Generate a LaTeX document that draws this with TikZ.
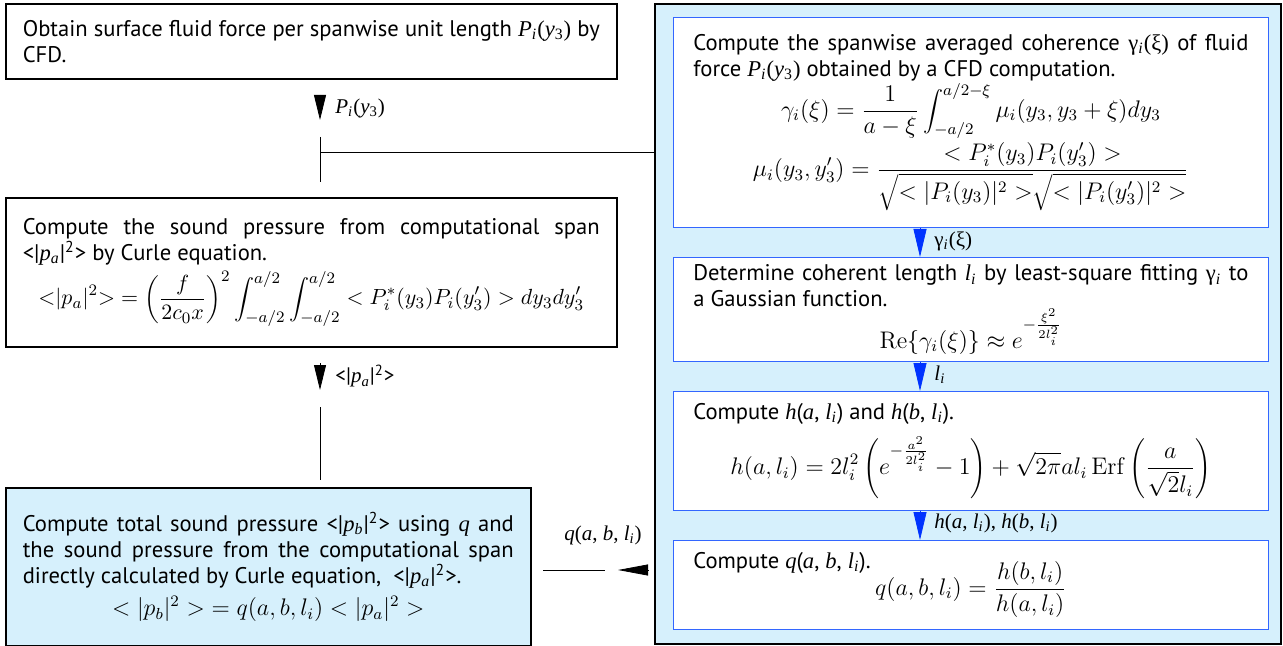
\documentclass[tikz,border=0pt]{standalone}
\usepackage[no-math]{fontspec}
\setmainfont{PT Sans}
\newfontfamily\tms{Liberation Serif}
\usetikzlibrary{arrows.meta}

\definecolor{panelblue}{HTML}{D6F0FC}
\definecolor{stepblue}{HTML}{3366FF}
\definecolor{tipblue}{HTML}{0033FF}

\hyphenpenalty=10000
\exhyphenpenalty=10000

\newcommand\tv[1]{{\tms\itshape #1}}
\newcommand\ts[1]{\textsubscript{#1}}
\newcommand\Piy{\tv{P}\ts{\tv{i}}{\tms(}\tv{y}\ts{\tms 3}{\tms)}}
\newcommand\pa{<|\tv{p}\ts{\tv{a}}|\textsuperscript{2}>}
\newcommand\pb{<|\tv{p}\ts{\tv{b}}|\textsuperscript{2}>}
\newcommand\gx{{\tms γ}\ts{\tv{i}}{\tms(ξ)}}
\newcommand\li{\tv{l}\ts{\tv{i}}}
\newcommand\mathsz[1]{\fontsize{#1}{14}\selectfont}

\begin{document}
\begin{tikzpicture}[x=0.5pt,y=-0.5pt,
  every node/.style={font=\fontsize{11.3}{13}\selectfont},
  leftbox/.style={draw,thick,anchor=north west,inner xsep=8.5pt,inner ysep=3pt,align=justify},
  stepbox/.style={draw=stepblue,fill=white,anchor=north west,inner xsep=10pt,inner ysep=3pt,
    text width=277.5pt,minimum width=297.5pt,align=justify},
  flowlabel/.style={anchor=west,inner sep=1pt,font=\tms\fontsize{10.5}{12}\selectfont},
  blacktip/.style={-{Triangle[length=12.5pt,width=6pt]}},
  bluetip/.style={draw=tipblue,-{Triangle[length=14pt,width=6.5pt]},tipblue},
  lefttip/.style={-{Triangle[length=15pt,width=5.5pt]}}]
\useasboundingbox (0,0) rectangle (1283,646);

% right hand panel
\node[draw,very thick,fill=panelblue,anchor=north west,minimum width=313pt,minimum height=320pt,inner sep=0pt] (panel) at (654,3) {};

\node[stepbox,minimum height=105pt] (coher) at (673,17) {Compute the spanwise averaged coherence \gx{} of fluid force \Piy{} obtained by a CFD computation.\par
\centerline{\mathsz{11.7}$\displaystyle\gamma_i(\xi)=\frac{1}{a-\xi}\int_{-a/2}^{a/2-\xi}\mu_i(y_3,y_3+\xi)dy_3$}\par\vspace{1pt}
\centerline{\mathsz{11.7}$\displaystyle\mu_i(y_3,y'_3)=\frac{<P_i^*(y_3)P_i(y'_3)>}{\sqrt{<|P_i(y_3)|^2>}\sqrt{<|P_i(y'_3)|^2>}}$}};
\node[stepbox,minimum height=52pt] (fitlen) at (673,257) {Determine coherent length \li{} by least-square fitting {\tms γ}\ts{\tv{i}} to\linebreak a Gaussian function.\par
\centerline{\mathsz{11.7}$\mathrm{Re}\{\gamma_i(\xi)\}\approx e^{-\frac{\xi^2}{2l_i^2}}$}};
\node[stepbox,minimum height=59.5pt] (hfun) at (673,391) {Compute \tv{h}(\tv{a}, \li) and \tv{h}(\tv{b}, \li).\par\vspace{5pt}
\centerline{\mathsz{11.7}$\displaystyle h(a,l_i)=2l_i^2\left(e^{-\frac{a^2}{2l_i^2}}-1\right)+\sqrt{2\pi}al_i\,\mathrm{Erf}\left(\frac{a}{\sqrt{2}l_i}\right)$}};
\node[stepbox,minimum height=44.5pt] (qfun) at (673,540) {Compute \tv{q}(\tv{a}, \tv{b}, \li).\par\vspace{-7pt}
\centerline{\mathsz{11.7}$\displaystyle q(a,b,l_i)=\frac{h(b,l_i)}{h(a,l_i)}$}};

% left hand column
\node[leftbox,text width=288.5pt,minimum height=37.5pt] (obtain) at (5,3) {Obtain surface fluid force per spanwise unit length \Piy{} by CFD.};
\node[leftbox,text width=288.5pt,minimum height=74.5pt] (curle) at (5,197) {Compute the sound pressure from computational span \pa{} by Curle equation.\par\vspace{2pt}
\centerline{\mathsz{10.8}$\displaystyle{<}|p_a|^2{>}=\left(\frac{f}{2c_0x}\right)^2\int_{-a/2}^{a/2}\int_{-a/2}^{a/2}<P_i^*(y_3)P_i(y'_3)>dy_3dy'_3$}};
\node[leftbox,fill=panelblue,text width=245.5pt,minimum height=79pt] (total) at (5,487) {Compute total sound pressure \pb{} using \tv{q} and the sound pressure from the computational span directly calculated by Curle equation,~ \pa.\par\vspace{3pt}
\centerline{\mathsz{11.5}$<|p_b|^2>\;=q(a,b,l_i)<|p_a|^2>$}};

% connectors, left column
\coordinate (t1) at (320,95);
\coordinate (t2) at (320,120);
\coordinate (j0) at (320,137);
\coordinate (j1) at (320,152);
\coordinate (j2) at (320,182);
\draw[blacktip] (t1)--(t2);
\node[flowlabel] (lbpi) at (333,108) {\Piy};
\draw (j0)--(j2);
\draw (j1)--(j1 -| panel.west);

\coordinate (t3) at (320,363);
\coordinate (t4) at (320,390);
\coordinate (j3) at (320,407);
\coordinate (j4) at (320,480);
\draw[blacktip] (t3)--(t4);
\node[flowlabel,font=\fontsize{10.5}{12}\selectfont] (lbpa) at (333,376) {\pa};
\draw (j3)--(j4);

\coordinate (q0) at (543,570);
\coordinate (q1) at (605,570);
\coordinate (q2) at (648,570);
\coordinate (q3) at (618,570);
\draw (q0)--(q1);
\draw[lefttip] (q2)--(q3);
\node[flowlabel,anchor=center] (lbq) at (603,535) {\tv{q}(\tv{a}, \tv{b}, \li)};

% connectors, right panel
\coordinate (bx) at (920,0);
\draw[bluetip] (coher.south -| bx)--(fitlen.north -| bx);
\node[flowlabel] (lbg) at (932,241) {\gx};
\draw[bluetip] (fitlen.south -| bx)--(hfun.north -| bx);
\node[flowlabel] (lbl) at (932,375) {\li};
\draw[bluetip] (hfun.south -| bx)--(qfun.north -| bx);
\node[flowlabel] (lbh) at (932,523) {\tv{h}(\tv{a}, \li), \tv{h}(\tv{b}, \li)};
\end{tikzpicture}
\end{document}
